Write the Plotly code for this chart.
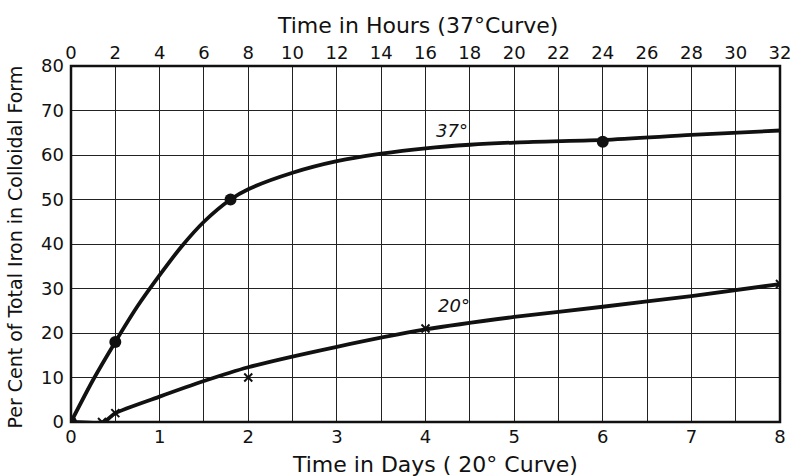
import plotly.graph_objects as go

# 37 degree series: time in hours (top axis)
hours_obs = [0, 2, 7.2, 24]
pct_37_obs = [0, 18, 50, 63]
hours_curve = [0, 1, 2, 3, 4, 5, 6, 7.2, 8, 10, 12, 14, 16, 18, 20, 24, 28, 32]
pct_37_curve = [0, 9.5, 18, 26, 33, 39.5, 45, 50, 52.3, 56, 58.6, 60.3, 61.5, 62.3, 62.8, 63.4, 64.5, 65.5]

# 20 degree series: time in days (bottom axis)
days_obs = [0, 0.35, 0.5, 2, 4, 8]
pct_20_obs = [0, 0, 2, 10, 21, 31]
days_curve = [0, 0.37, 0.5, 1, 1.5, 2, 3, 4, 5, 6, 7, 8]
pct_20_curve = [0, 0, 2, 5.7, 9.2, 12.3, 16.9, 20.8, 23.6, 25.9, 28.3, 31]

day_ticks = [i * 0.5 for i in range(17)]
day_text = [str(int(v)) if v == int(v) else "" for v in day_ticks]
hour_ticks = list(range(0, 33, 2))
pct_ticks = list(range(0, 81, 10))

FONT = "DejaVu Sans"
INK = "#111111"

fig = go.Figure()

fig.add_trace(go.Scatter(
    x=hours_curve, y=pct_37_curve, xaxis="x2", mode="lines",
    line=dict(color=INK, width=3.8, shape="spline", smoothing=0.8),
    hoverinfo="skip", showlegend=False))
fig.add_trace(go.Scatter(
    x=hours_obs, y=pct_37_obs, xaxis="x2", mode="markers",
    marker=dict(color=INK, size=12, symbol="circle"),
    showlegend=False))

fig.add_trace(go.Scatter(
    x=days_curve, y=pct_20_curve, mode="lines",
    line=dict(color=INK, width=3.8, shape="spline", smoothing=0.6),
    hoverinfo="skip", showlegend=False))
fig.add_trace(go.Scatter(
    x=days_obs, y=pct_20_obs, mode="markers",
    marker=dict(color=INK, size=8, symbol="x-thin", line=dict(color=INK, width=2)),
    showlegend=False))

axis_common = dict(showline=False, zeroline=False, ticks="",
                   tickfont=dict(family=FONT, size=18, color=INK))

fig.update_layout(
    width=801, height=476,
    margin=dict(l=71, r=10, t=66, b=54),
    paper_bgcolor="white", plot_bgcolor="white",
    xaxis=dict(range=[0, 8], tickvals=day_ticks, ticktext=day_text,
               showgrid=True, gridcolor="#222", gridwidth=1.1,
               ticklabelstandoff=2, **axis_common),
    xaxis2=dict(range=[0, 32], overlaying="x", side="top",
                tickvals=hour_ticks, showgrid=False,
                ticklabelstandoff=2, **axis_common),
    yaxis=dict(range=[0, 80], tickvals=pct_ticks, showgrid=True,
               gridcolor="#222", gridwidth=1.1, ticklabelstandoff=6,
               **axis_common),
    shapes=[dict(type="rect", xref="paper", yref="paper", x0=0, y0=0, x1=1, y1=1,
                 line=dict(color=INK, width=2.5), layer="above")],
    annotations=[
        dict(text="Time in Hours (37°Curve)", xref="paper", yref="paper",
             x=0.489, y=1, yshift=41, showarrow=False, xanchor="center",
             yanchor="middle", font=dict(family=FONT, size=22, color=INK)),
        dict(text="Time in Days ( 20° Curve)", xref="paper", yref="paper",
             x=0.513, y=0, yshift=-42, showarrow=False, xanchor="center",
             yanchor="middle", font=dict(family=FONT, size=22, color=INK)),
        dict(text="Per Cent of Total Iron in Colloidal Form", xref="paper",
             yref="paper", x=0, xshift=-56, y=0.49, textangle=-90,
             showarrow=False, xanchor="center", yanchor="middle",
             font=dict(family=FONT, size=19, color=INK)),
        dict(text="<i>37°</i>", x=17.2, y=65.6, xref="x2", yref="y",
             showarrow=False, font=dict(family=FONT, size=18, color=INK)),
        dict(text="<i>20°</i>", x=4.32, y=26.2, xref="x", yref="y",
             showarrow=False, font=dict(family=FONT, size=18, color=INK)),
    ],
)

fig.write_html("out.html")
